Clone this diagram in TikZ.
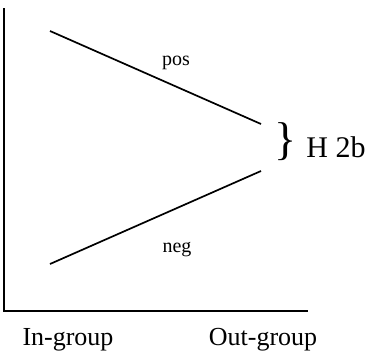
\documentclass[tikz,border=0pt]{standalone}
\usepackage{fontspec}
\setmainfont{Liberation Serif}

\tikzset{
  axis/.style={line width=1pt},
  trend/.style={line width=0.85pt},
  small/.style={anchor=base, inner sep=0pt, font=\fontsize{10}{12}\selectfont},
  group/.style={anchor=base, inner sep=0pt, font=\fontsize{13}{15}\selectfont},
}

\begin{document}
\begin{tikzpicture}[x=0.5pt,y=-0.5pt]
  \useasboundingbox (0,0) rectangle (369,354);

  % Axes
  \coordinate (ytop) at (4,8);
  \coordinate (origin) at (4,311);
  \coordinate (xend) at (308,311);
  \draw[axis] (ytop) -- (origin) -- (xend);

  % Trend lines
  \coordinate (pos_in) at (50,31);
  \coordinate (pos_out) at (261,124);
  \coordinate (neg_in) at (50,264);
  \coordinate (neg_out) at (261,171);
  \draw[trend] (pos_in) -- (pos_out);
  \draw[trend] (neg_in) -- (neg_out);

  % Line labels
  \node[small] (pos) at (176,65) {pos};
  \node[small] (neg) at (177,252) {neg};

  % Hypothesis
  \node[inner sep=0pt, font=\fontsize{23}{25}\selectfont] (brace) at (286,142) {\}};
  \node[anchor=base west, inner sep=0pt, font=\fontsize{15}{17}\selectfont] (hyp) at (306,157) {H 2b};

  % Groups
  \node[group] (ingroup) at (68,345) {In-group};
  \node[group] (outgroup) at (263,345) {Out-group};

\end{tikzpicture}
\end{document}
